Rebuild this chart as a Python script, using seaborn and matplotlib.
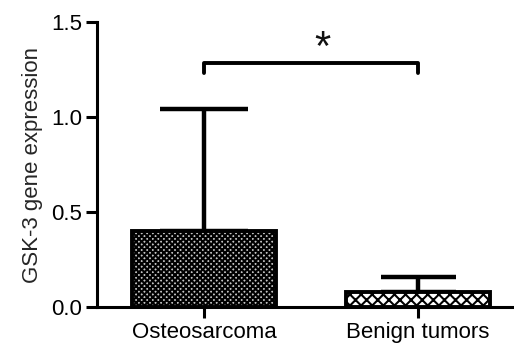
import matplotlib
matplotlib.use("Agg")
import matplotlib.pyplot as plt
import seaborn as sns
import pandas as pd

categories = ["Osteosarcoma", "Benign tumors"]
means = [0.40, 0.08]
sds = [0.64, 0.08]
yticks = [0.0, 0.5, 1.0, 1.5]
ylabel = "GSK-3 gene expression"
sig_label = "*"
bracket_y = 1.285

sns.set_theme(style="ticks")
plt.rcParams['font.family'] = ['Liberation Sans', 'DejaVu Sans']
plt.rcParams['hatch.linewidth'] = 1.5

df = pd.DataFrame({"group": categories, "value": means})

fig = plt.figure(figsize=(5.14, 3.46), dpi=100)
ax = fig.add_axes([0.189, 0.113, 0.811, 0.823])

sns.barplot(data=df, x="group", y="value", errorbar=None, width=0.67,
            color="white", ax=ax, zorder=3)

styles = [("#c4c4c4", "xxxxxx"), ("white", "xxx")]
for p, (fc, h) in zip(ax.patches, styles):
    p.set_facecolor(fc)
    p.set_hatch(h)
    p.set_edgecolor("black")
    p.set_linewidth(2.8)

xs = list(range(len(categories)))
capsizes = [32, 27]
for x, m, s, cs in zip(xs, means, sds, capsizes):
    ax.errorbar([x], [m], yerr=[[0], [s]], fmt="none", ecolor="black",
                elinewidth=3.2, capsize=cs, capthick=3.2, zorder=2)

# significance bracket
ax.plot([xs[0], xs[0], xs[1], xs[1]],
        [bracket_y - 0.053, bracket_y, bracket_y, bracket_y - 0.053],
        color="black", lw=2.8, clip_on=False, solid_joinstyle="round")
ax.text((xs[0] + xs[1]) / 2 + 0.055, 1.36, sig_label, ha="center", va="center",
        fontsize=30, color="#111111")

ax.set_xlim(-0.5, 1.449)
ax.set_ylim(0, 1.5)
ax.set_yticks(yticks)
ax.set_yticklabels([f"{t:.1f}" for t in yticks])
ax.set_xlabel("")
ax.set_ylabel(ylabel, fontsize=16, labelpad=6)
ax.tick_params(axis="both", labelsize=16, width=2.2, length=8, color="black",
               labelcolor="black", pad=3)
for s in ["left", "bottom"]:
    ax.spines[s].set_linewidth(2.2)
    ax.spines[s].set_color("black")
sns.despine(ax=ax)

fig.savefig("out.png", dpi=100)
